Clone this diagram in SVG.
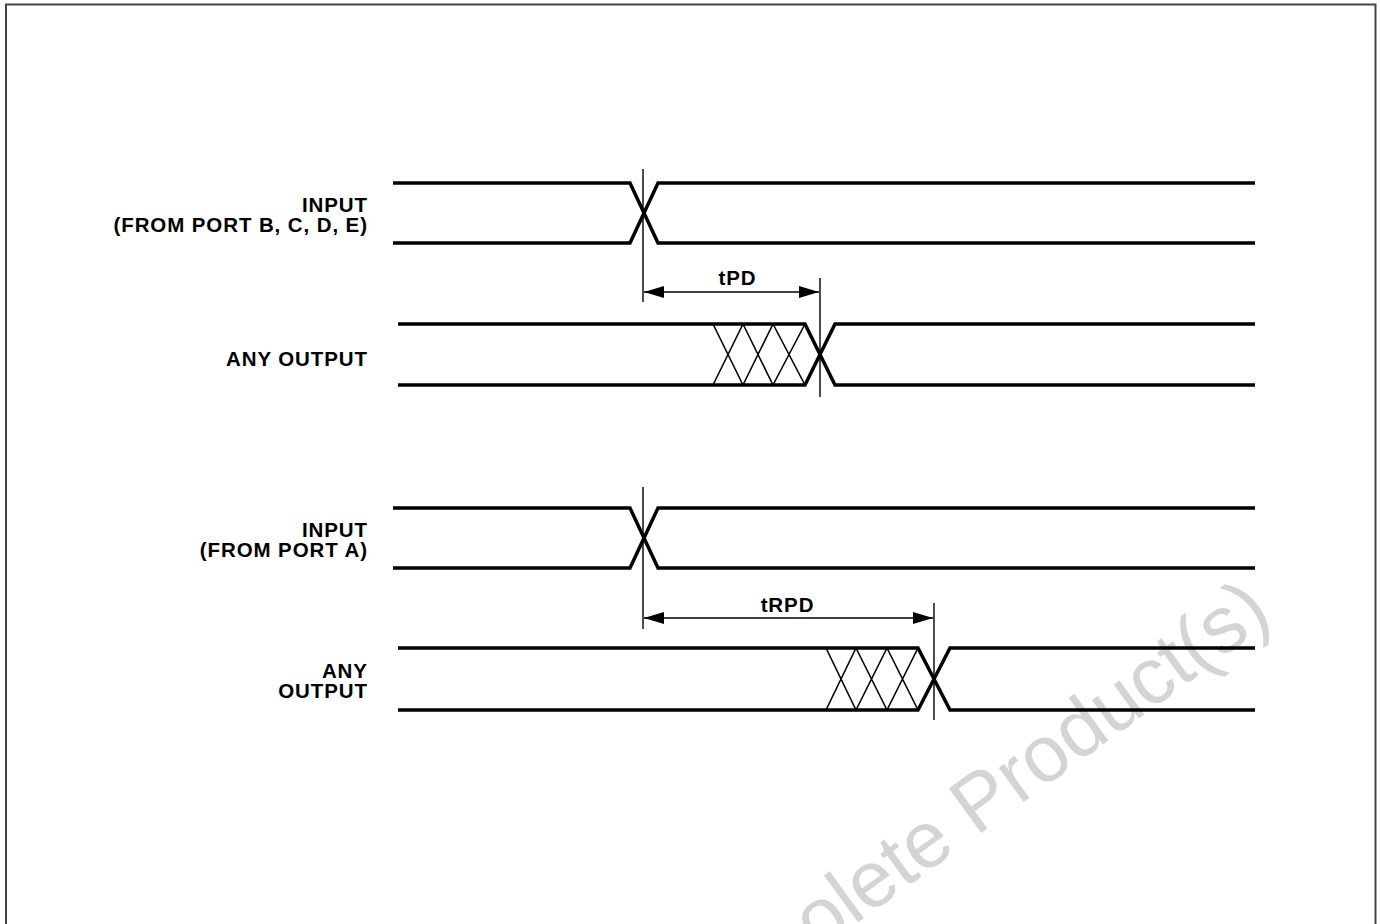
<svg xmlns="http://www.w3.org/2000/svg" width="1380" height="924" viewBox="0 0 1380 924">
<style>
.sig{fill:none;stroke:#000;stroke-width:3.5;stroke-linejoin:miter}
.hatch{fill:none;stroke:#000;stroke-width:1.6}
.mark{stroke:#000;stroke-width:1.4}
.dim{stroke:#000;stroke-width:1.5}
.lbl{font-family:"Liberation Sans",Arial,sans-serif;font-weight:bold;font-size:20.5px;letter-spacing:0.9px;fill:#000}
.wm{font-family:"Liberation Sans",Arial,sans-serif;font-size:80px;fill:#d4d4d4}
</style>
<defs>
<marker id="ah" viewBox="0 0 20 12" refX="20" refY="6" markerWidth="20" markerHeight="12" markerUnits="userSpaceOnUse" orient="auto-start-reverse">
<path d="M0,0 L20,6 L0,12 Z" fill="#000"/>
</marker>
</defs>
<rect x="0" y="0" width="1380" height="924" fill="#fff"/>
<path d="M6,930 V4.5 H1375.5 V930" fill="none" stroke="#444" stroke-width="2"/>
<text class="wm" transform="translate(699,1038) rotate(-36)">Obsolete Product(s)</text>

<g id="sig-input-bcde">
<path class="sig" d="M393,183 H630 L658,243 H1255"/>
<path class="sig" d="M393,243 H630 L658,183 H1255"/>
<text class="lbl" x="367.9" y="212" text-anchor="end">INPUT</text>
<text class="lbl" x="367.9" y="232" text-anchor="end">(FROM PORT B, C, D, E)</text>
</g>

<g id="sig-output-1">
<path class="sig" d="M398,324 H805 L835,385 H1255"/>
<path class="sig" d="M398,385 H805 L835,324 H1255"/>
<path class="hatch" d="M713,385 L743,324 M713,324 L743,385 M743,385 L773,324 M743,324 L773,385 M773,385 L805,324 M773,324 L805,385"/>
<text class="lbl" x="367.9" y="366" text-anchor="end">ANY OUTPUT</text>
</g>

<g id="sig-input-a">
<path class="sig" d="M393,508 H630 L658,568 H1255"/>
<path class="sig" d="M393,568 H630 L658,508 H1255"/>
<text class="lbl" x="367.9" y="537" text-anchor="end">INPUT</text>
<text class="lbl" x="367.9" y="557" text-anchor="end">(FROM PORT A)</text>
</g>

<g id="sig-output-2">
<path class="sig" d="M398,648 H918 L950,710 H1255"/>
<path class="sig" d="M398,710 H918 L950,648 H1255"/>
<path class="hatch" d="M826,710 L856,648 M826,648 L856,710 M856,710 L887,648 M856,648 L887,710 M887,710 L918,648 M887,648 L918,710"/>
<text class="lbl" x="367.9" y="678" text-anchor="end">ANY</text>
<text class="lbl" x="367.9" y="698" text-anchor="end">OUTPUT</text>
</g>

<g id="connectors">
<line class="mark" x1="643" y1="169" x2="643" y2="302"/>
<line class="mark" x1="820" y1="278" x2="820" y2="397"/>
<line class="mark" x1="643" y1="487" x2="643" y2="629"/>
<line class="mark" x1="934" y1="603" x2="934" y2="720"/>
<line class="dim" x1="644" y1="292" x2="819" y2="292" marker-start="url(#ah)" marker-end="url(#ah)"/>
<line class="dim" x1="644" y1="618" x2="933" y2="618" marker-start="url(#ah)" marker-end="url(#ah)"/>
<text class="lbl" x="737.5" y="285" text-anchor="middle">tPD</text>
<text class="lbl" x="787.5" y="612" text-anchor="middle">tRPD</text>
</g>
</svg>
